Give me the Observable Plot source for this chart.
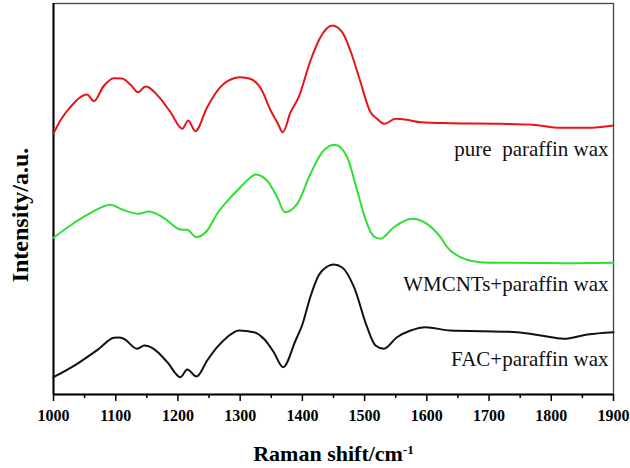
<!DOCTYPE html>
<html>
<head>
<meta charset="utf-8">
<script src="https://cdn.jsdelivr.net/npm/d3@7"></script>
<script src="https://cdn.jsdelivr.net/npm/@observablehq/plot@0.6"></script>
<style>
  html, body { margin: 0; padding: 0; background: #fff; }
</style>
</head>
<body>
<div id="chart"></div>
<script>
// Raman shift (cm-1) and intensity (a.u., offset traces)
const pureShift = [1000,1011,1027,1054,1065,1080,1097,1110,1125,1135.5,1148,1172,1188,1207,1216.5,1228,1247,1268,1290,1300,1316,1335,1349,1359.5,1368.6,1381,1394,1413,1429,1448,1464,1477,1491,1509.5,1520,1532,1549.6,1568,1590,1638,1718,1771,1815,1858,1900];
const pureInt   = [261,274,287.3,300,293.3,308,316.3,316,309,302.3,308,295.7,282.3,265.7,274,263.3,287.3,307.3,316.3,317.3,315.7,304,284,272.3,262.3,282.3,297.3,334,357.3,369,362.3,344,317.3,282.3,275.7,270.7,275.7,274.7,272.3,271.3,270.7,269.7,266.7,266.7,269];

const mwcntShift = [1000,1027,1059,1091.6,1110,1137,1153,1177,1204,1215,1229,1247,1263,1290,1300,1317,1324.6,1343,1359.5,1372,1391.6,1413,1432,1452,1472,1488,1504,1515,1525.5,1547,1576.5,1600,1622,1632.7,1654,1686,1718,1825,1900];
const mwcntInt   = [156.7,169,181.3,189.7,185,180.7,183,176.7,165,164.7,157.3,164,180.7,200.7,207,217.3,220,214,197.3,182.3,190.7,220.7,242.3,249.7,237.3,204,170.7,158,155.7,167.3,175.7,170.7,157.3,147.3,137.3,132.3,131.7,131.3,131.7];

const facShift = [1000,1038,1073,1097,1105,1113,1134.5,1146,1161,1183,1204,1215,1230,1247,1263,1279,1298,1322,1338,1354,1369,1389,1400,1413,1426,1440,1450.5,1464,1483,1504,1517.5,1531,1552,1574,1598,1638,1691.6,1745,1783,1820,1858,1900];
const facInt   = [17.3,30.7,45.7,56.7,57,55.7,45.7,49,45.7,32.3,17.3,25,18,34,47.3,57.3,64,62.3,55.7,42.3,27.3,54,70,98,119,128,130,127,107.3,67.3,49,45.7,57.3,64,67.3,64,63.3,62.3,59,55.7,60,62.3];

const seriesNames  = ["pure\u00a0 paraffin wax", "WMCNTs+paraffin wax", "FAC+paraffin wax"];
const seriesColors = ["#e8141a", "#2ee02e", "#111111"];
const labelInt     = [245.7, 110.7, 35.7];

const majorTicks = [1000,1100,1200,1300,1400,1500,1600,1700,1800,1900];
const minorTicks = [1050,1150,1250,1350,1450,1550,1650,1750,1850];
const xTitle = "Raman shift/cm-1";
const yTitle = "Intensity/a.u.";

const toRows = (xs, ys, name) => xs.map((x, i) => ({shift: x, intensity: ys[i], name}));
const rows = [
  ...toRows(pureShift, pureInt, seriesNames[0]),
  ...toRows(mwcntShift, mwcntInt, seriesNames[1]),
  ...toRows(facShift, facInt, seriesNames[2])
];
const labels = seriesNames.map((n, i) => ({name: n, shift: 1900, intensity: labelInt[i]}));

const font = "'Liberation Serif', 'Times New Roman', serif";

const chart = Plot.plot({
  width: 630,
  height: 468,
  marginLeft: 53,
  marginRight: 17,
  marginTop: 3,
  marginBottom: 74,
  style: {fontFamily: font, fontSize: "16px", color: "#000", background: "#fff"},
  x: {domain: [1000, 1900]},
  y: {domain: [0, 391], axis: null},
  color: {domain: seriesNames, range: seriesColors},
  marks: [
    Plot.frame({stroke: "#444", strokeWidth: 1.3}),
    Plot.ruleX([1000], {stroke: "#000", strokeWidth: 2}),
    Plot.ruleY([0], {stroke: "#000", strokeWidth: 2}),
    Plot.axisX({ticks: minorTicks, tickSize: 4, tickFormat: null, text: null, label: null, strokeWidth: 1.5}),
    Plot.axisX({ticks: majorTicks, tickSize: 7, tickPadding: 8, tickFormat: d => String(d), label: null,
                fontWeight: "bold", fontSize: 16, strokeWidth: 1.5}),
    Plot.line(rows, {x: "shift", y: "intensity", z: "name", stroke: "name", strokeWidth: 2, curve: "monotone-x"}),
    Plot.text(labels, {x: "shift", y: "intensity", text: "name", textAnchor: "end", dx: -5,
                       lineAnchor: "middle", fontSize: 21, fill: "#111"}),
    Plot.text([xTitle], {frameAnchor: "bottom", dy: 59, lineAnchor: "middle", fontSize: 22, fontWeight: "bold", fill: "#000"}),
    Plot.text([yTitle], {frameAnchor: "left", textAnchor: "middle", dx: -33, dy: 16, rotate: -90, lineAnchor: "middle",
                         fontSize: 24, fontWeight: "bold", fill: "#000"})
  ]
});

// superscript "-1" in the x title
d3.select(chart).selectAll("text").each(function() {
  if (this.textContent === xTitle) {
    const t = d3.select(this);
    t.text("Raman shift/cm");
    t.append("tspan").attr("baseline-shift", "super").attr("font-size", "13px").text("-1");
  }
});

document.getElementById("chart").appendChild(chart);
</script>
</body>
</html>
